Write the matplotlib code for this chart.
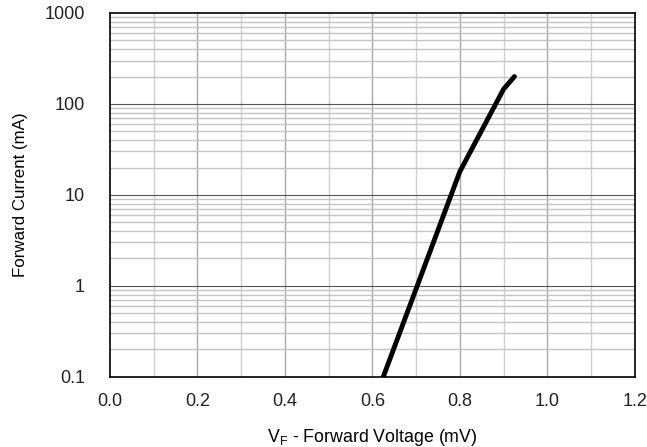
import matplotlib
matplotlib.use("Agg")
import matplotlib.pyplot as plt
from matplotlib.ticker import FixedLocator, NullFormatter

plt.rcParams['font.family'] = ['Liberation Sans', 'DejaVu Sans']

# forward voltage (V) vs forward current (mA)
vf = [0.625, 0.80, 0.90, 0.925]
i_f = [0.1, 18, 145, 200]

x_ticks = [0.0, 0.2, 0.4, 0.6, 0.8, 1.0, 1.2]
x_labels = ["0.0", "0.2", "0.4", "0.6", "0.8", "1.0", "1.2"]
y_ticks = [0.1, 1, 10, 100, 1000]
y_labels = ["0.1", "1", "10", "100", "1000"]

fig = plt.figure(figsize=(6.47, 4.47), dpi=100)
ax = fig.add_axes([0.170, 0.157, 0.811, 0.814])

ax.set_xlim(0, 1.2)
ax.set_yscale('log')
ax.set_ylim(0.1, 1000)

# vertical grid: odd tenths light, even tenths darker
for i in range(1, 12):
    xv = i / 10
    col = '#a8a8a8' if i % 2 == 0 else '#cfcfcf'
    ax.axvline(xv, color=col, lw=1.0, zorder=1)

# horizontal grid: minor lines gray, decade lines dark
for dec in [0.1, 1, 10, 100]:
    for m in range(2, 10):
        ax.axhline(dec * m, color='#c4c4c4', lw=1.0, zorder=1)
for dec in [1, 10, 100]:
    ax.axhline(dec, color='#555555', lw=0.8, zorder=1)

ax.plot(vf, i_f, color='black', lw=3.5, solid_capstyle='round', zorder=3)

ax.set_xticks(x_ticks)
ax.set_xticklabels(x_labels)
ax.yaxis.set_major_locator(FixedLocator(y_ticks))
ax.set_yticklabels(y_labels)
ax.yaxis.set_minor_formatter(NullFormatter())
ax.tick_params(axis='both', which='both', length=0, labelsize=13, colors='#222222')
ax.tick_params(axis='x', pad=12)
ax.tick_params(axis='y', pad=18)

for s in ax.spines.values():
    s.set_color('black')
    s.set_linewidth(1.2)

ax.set_xlabel(r'V$_\mathregular{F}$ - Forward Voltage (mV)', fontsize=12.8, labelpad=12)
ax.set_ylabel('Forward Current (mA)', fontsize=12.2, labelpad=12)

fig.savefig('out.png', dpi=100)
